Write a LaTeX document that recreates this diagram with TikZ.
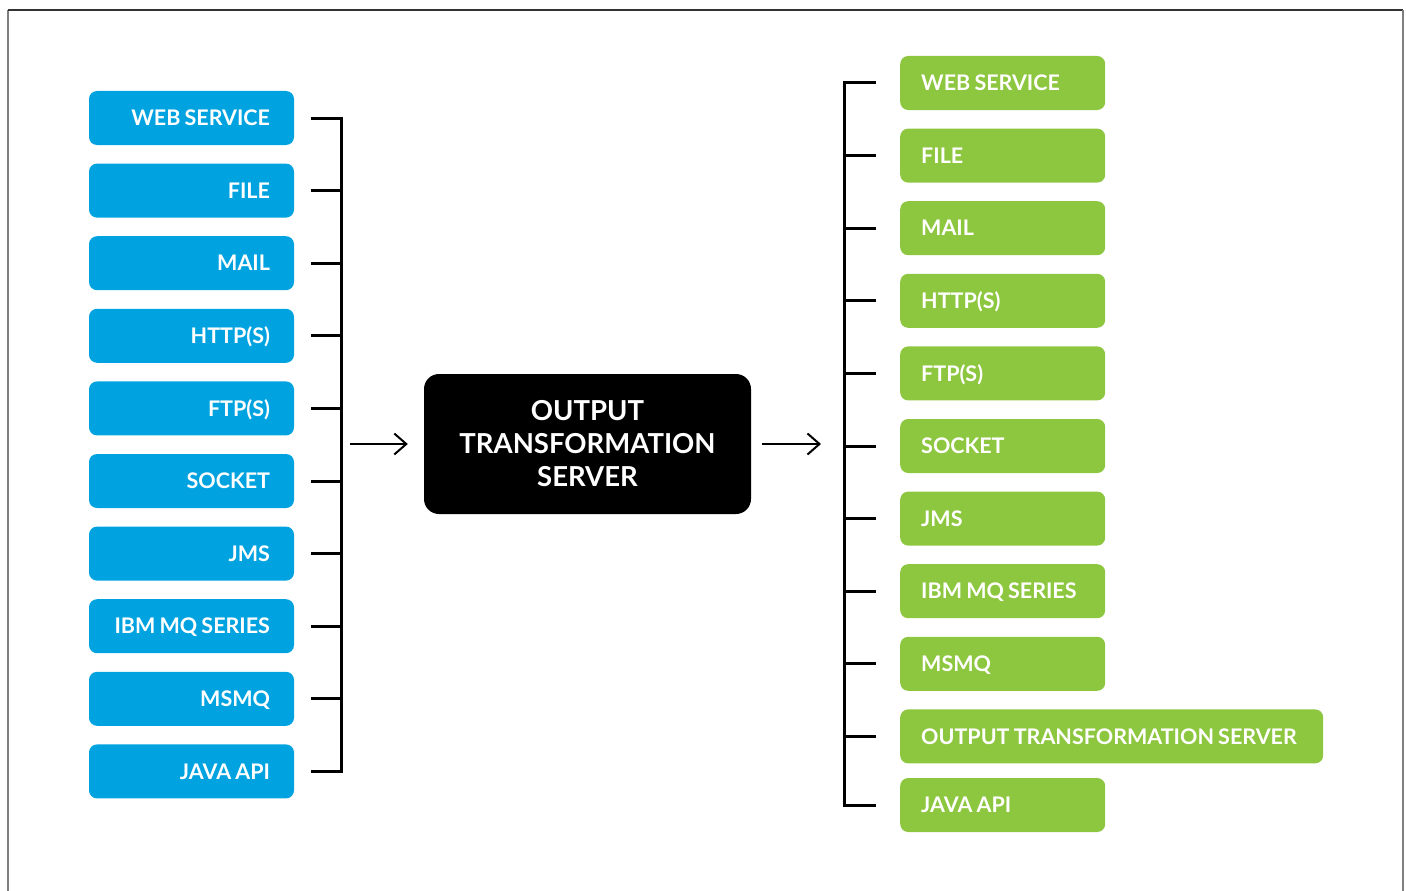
\documentclass[tikz,border=0pt]{standalone}
\usepackage{fontspec}
\setmainfont{Lato}[WordSpace=0.8]
\usetikzlibrary{arrows.meta}

\definecolor{srcblue}{HTML}{00A3E0}
\definecolor{dstgreen}{HTML}{8DC63F}

\tikzset{
  srcbox/.style={fill=srcblue, rounded corners=8pt, text=white,
    font=\bfseries\fontsize{21.5}{24}\selectfont, text width=157pt, align=flush right,
    inner xsep=24pt, inner ysep=0pt, minimum height=54pt, text height=15.5pt, text depth=0pt},
  dstbox/.style={fill=dstgreen, rounded corners=8pt, text=white, anchor=west,
    font=\bfseries\fontsize{21.5}{24}\selectfont, align=flush left,
    inner xsep=21pt, inner ysep=0pt, minimum height=54pt, text height=15.5pt, text depth=0pt},
  hubbox/.style={fill=black, rounded corners=15pt, text=white, align=center,
    font=\bfseries\fontsize{27.5}{33}\selectfont, minimum width=327pt, minimum height=140pt},
  bracket/.style={line width=3pt},
  flow/.style={line width=2pt, -{Straight Barb[length=12pt,width=21pt,line width=2pt]}}
}

\begin{document}
\begin{tikzpicture}[x=1pt,y=-1pt]
    \useasboundingbox (0,0) rectangle (1406,891);

    % Frame (open at the bottom)
    \draw[gray, line width=1.5pt] (8,891) -- (8,10);
    \draw[black!80, line width=1.5pt] (8,10) -- (1403,10);
    \draw[gray, line width=1.5pt] (1403,10) -- (1403,891);

    % Input channels
    \foreach \lbl [count=\i] in {WEB SERVICE, FILE, MAIL, HTTP(S), FTP(S), SOCKET, JMS, IBM MQ SERIES, MSMQ, JAVA API}
        \node[srcbox] (src\i) at (191.5,{118+72.6*(\i-1)}) {\lbl};

    % Input bracket
    \draw[bracket] ([xshift=17pt]src1.east) -| ([xshift=47pt]src10.east) -- ([xshift=17pt]src10.east);
    \foreach \i in {2,...,9}
        \draw[bracket] ([xshift=17pt]src\i.east) -- ([xshift=47pt]src\i.east);
    \coordinate (inbar) at (341,444);

    % Server
    \node[hubbox] (hub) at (587.5,444) {OUTPUT\\TRANSFORMATION\\SERVER};

    % Output channels
    \foreach \lbl/\w [count=\i] in {WEB SERVICE/163, FILE/163, MAIL/163, HTTP(S)/163, FTP(S)/163, SOCKET/163, JMS/163, IBM MQ SERIES/163, MSMQ/163, OUTPUT TRANSFORMATION SERVER/381}
        \node[dstbox, text width=\w pt] (dst\i) at (900,{83+72.6*(\i-1)}) {\lbl};
    \node[dstbox, text width=163pt] (dst11) at (900,805) {JAVA API};

    % Output bracket
    \draw[bracket] ([xshift=-24pt]dst1.west) -| ([xshift=-56pt]dst11.west) -- ([xshift=-24pt]dst11.west);
    \foreach \i in {2,...,10}
        \draw[bracket] ([xshift=-24pt]dst\i.west) -- ([xshift=-56pt]dst\i.west);
    \coordinate (outbar) at (844,444);

    % Flow arrows
    \draw[flow] ([xshift=9pt]inbar) -- ([xshift=-16pt]hub.west);
    \draw[flow] ([xshift=11pt]hub.east) -- ([xshift=-23pt]outbar);
\end{tikzpicture}
\end{document}
